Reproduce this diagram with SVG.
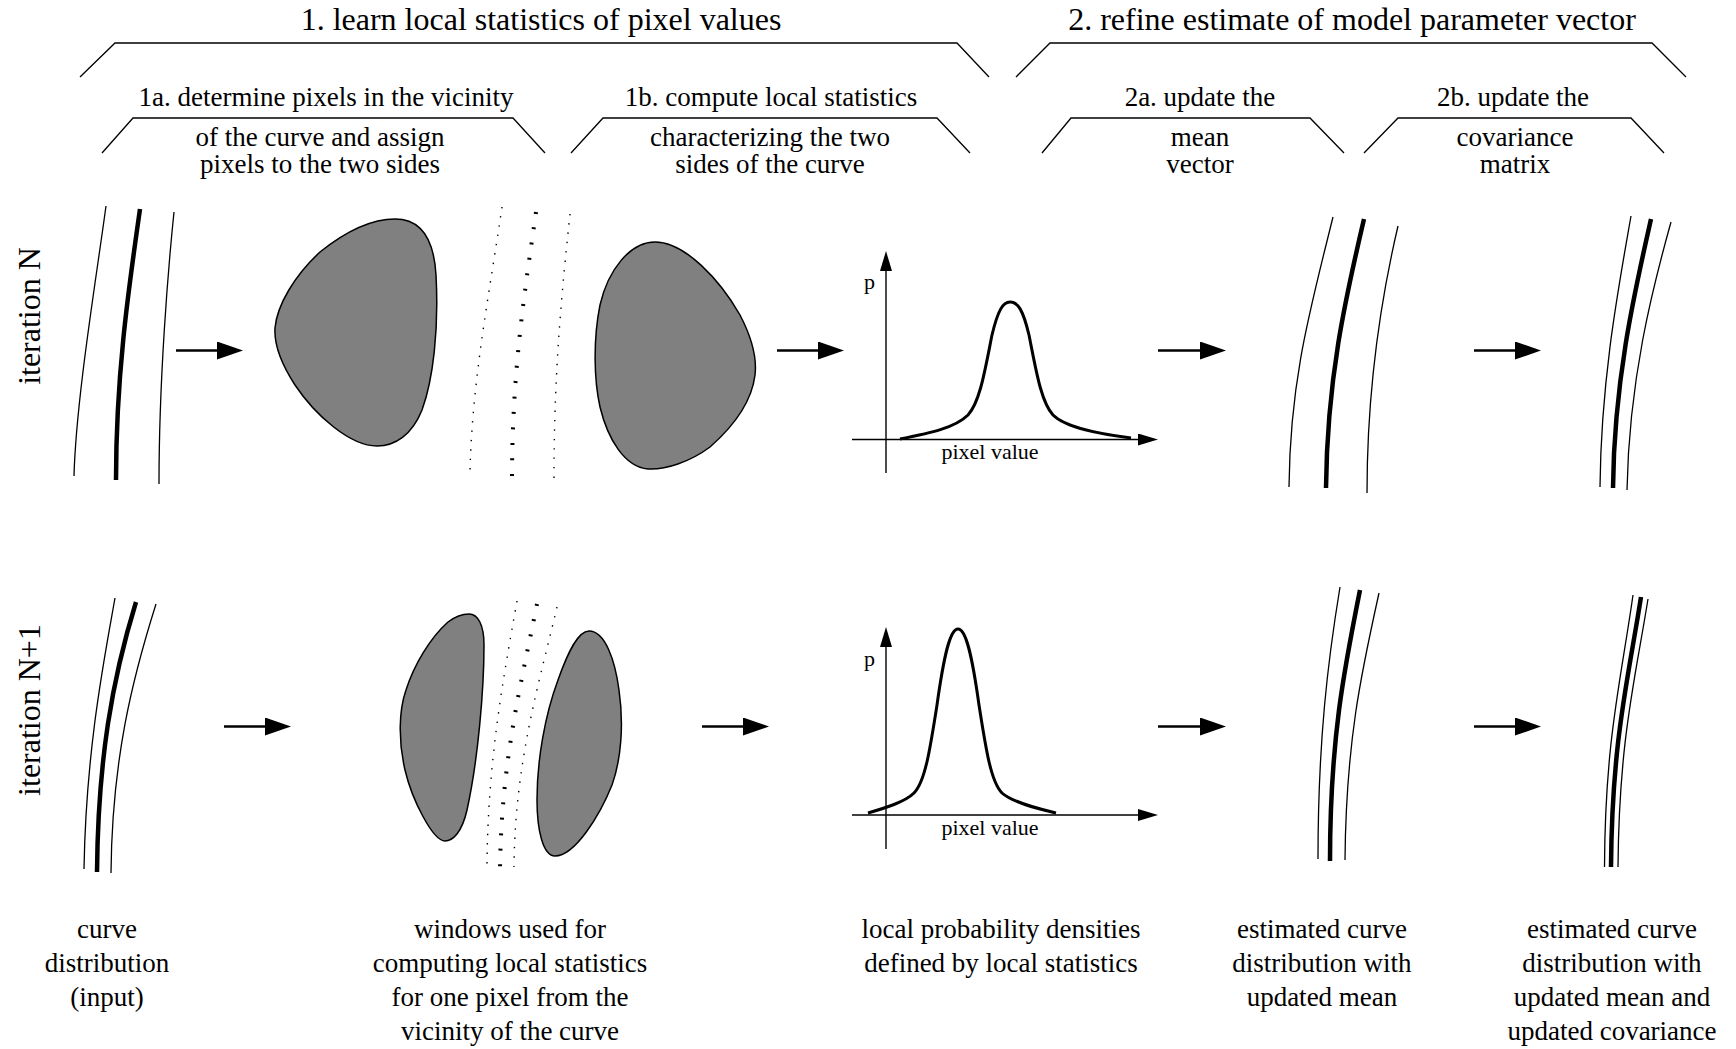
<svg xmlns="http://www.w3.org/2000/svg" width="1736" height="1049" viewBox="0 0 1736 1049">
<style>
text{font-family:"Liberation Serif","Times New Roman",serif;fill:#000}
.t1{font-size:32px;text-anchor:middle}
.rl{font-size:32px;text-anchor:middle}
.t2{font-size:27px;text-anchor:middle}
.lab{font-size:27px;text-anchor:middle}
.ax{font-size:22px}
.brk{fill:none;stroke:#000;stroke-width:1.3}
.thin{fill:none;stroke:#000;stroke-width:1.3}
.thick{fill:none;stroke:#000;stroke-width:4.5}
.dot{fill:none;stroke:#000;stroke-width:1.4;stroke-dasharray:1.4 8}
.dash{fill:none;stroke:#000;stroke-width:4;stroke-dasharray:2 13.5}
.blob{fill:#808080;stroke:#000;stroke-width:1.5}
.arr{fill:none;stroke:#000;stroke-width:2.6;marker-end:url(#big)}
.axis{fill:none;stroke:#000;stroke-width:1.4;marker-end:url(#small)}
.pdf{fill:none;stroke:#000;stroke-width:3}
</style>
<defs>
<marker id="big" markerUnits="userSpaceOnUse" viewBox="0 0 26 18" refX="16" refY="9" markerWidth="26" markerHeight="18" orient="auto">
<path d="M0,0 L26,9 L0,18 Z" fill="#000"/>
</marker>
<marker id="small" markerUnits="userSpaceOnUse" viewBox="0 0 20 12" refX="12" refY="6" markerWidth="20" markerHeight="12" orient="auto">
<path d="M0,0 L20,6 L0,12 Z" fill="#000"/>
</marker>
</defs>
<rect width="1736" height="1049" fill="#fff"/>

<g id="header1">
<text class="t1" x="541" y="30">1. learn local statistics of pixel values</text>
<path class="brk" d="M80,77 L115,43 L957,43 L989,77"/>
</g>
<g id="header2">
<text class="t1" x="1352" y="30">2. refine estimate of model parameter vector</text>
<path class="brk" d="M1016,77 L1050,43 L1652,43 L1686,77"/>
</g>
<g id="step1a">
<text class="t2" x="326" y="106">1a. determine pixels in the vicinity</text>
<path class="brk" d="M102,153 L133,118 L513,118 L545,153"/>
<text class="t2" x="320" y="146">of the curve and assign</text>
<text class="t2" x="320" y="173">pixels to the two sides</text>
</g>
<g id="step1b">
<text class="t2" x="771" y="106">1b. compute local statistics</text>
<path class="brk" d="M571,153 L603,118 L937,118 L970,153"/>
<text class="t2" x="770" y="146">characterizing the two</text>
<text class="t2" x="770" y="173">sides of the curve</text>
</g>
<g id="step2a">
<text class="t2" x="1200" y="106">2a. update the</text>
<path class="brk" d="M1042,153 L1071,118 L1310,118 L1344,153"/>
<text class="t2" x="1200" y="146">mean</text>
<text class="t2" x="1200" y="173">vector</text>
</g>
<g id="step2b">
<text class="t2" x="1513" y="106">2b. update the</text>
<path class="brk" d="M1364,153 L1398,118 L1631,118 L1664,153"/>
<text class="t2" x="1515" y="146">covariance</text>
<text class="t2" x="1515" y="173">matrix</text>
</g>

<g id="rowlabel-N">
<text class="rl" transform="translate(40,316) rotate(-90)">iteration N</text>
</g>
<g id="rowlabel-N1">
<text class="rl" transform="translate(40,710) rotate(-90)">iteration N+1</text>
</g>

<!-- row 1 -->
<g id="r1-input">
<path class="thin" d="M106,206 C96,280 76,400 74,476"/>
<path class="thick" d="M140,209 C130,280 116,370 116,480"/>
<path class="thin" d="M174,212 C168,270 159,380 159,484"/>
</g>
<g id="r1-windows">
<path class="blob" d="M395,219 C422,219 434,240 436,275 C439,330 433,380 422,410 C412,435 395,446 377,446 C350,446 315,415 295,385 C280,362 274,345 275,328 C277,305 295,275 320,252 C345,232 372,219 395,219 Z"/>
<path class="dot" d="M502,207 C490,290 472,380 470,472"/>
<path class="dash" d="M536,212 C525,290 512,370 512,480"/>
<path class="dot" d="M570,214 C562,290 554,370 554,478"/>
<path class="blob" d="M655,242 C685,242 720,280 740,315 C752,338 757,358 755,375 C752,400 735,425 710,447 C690,462 665,470 648,469 C625,467 608,440 600,407 C594,380 593,340 600,305 C608,270 630,242 655,242 Z"/>
</g>
<g id="r1-density">
<path class="axis" d="M886,473 L886,259"/>
<path class="axis" d="M852,439.5 L1150,439.5"/>
<text class="ax" x="864" y="289">p</text>
<text class="ax" x="990" y="459" text-anchor="middle">pixel value</text>
<path class="pdf" d="M900,439 C930,433 955,428 968,415 C980,402 985,370 992,335 C998,310 1003,302 1010,302 C1018,302 1023,310 1029,335 C1036,370 1041,402 1053,415 C1066,428 1100,434 1131,438"/>
</g>
<g id="r1-mean">
<path class="thin" d="M1333,217 C1310,310 1290,380 1289,487"/>
<path class="thick" d="M1364,219 C1345,300 1327,380 1326,488"/>
<path class="thin" d="M1398,226 C1383,290 1367,380 1367,493"/>
</g>
<g id="r1-cov">
<path class="thin" d="M1631,216 C1618,290 1601,380 1600,487"/>
<path class="thick" d="M1651,219 C1635,290 1614,380 1613,488"/>
<path class="thin" d="M1671,222 C1652,290 1629,380 1627,490"/>
</g>

<!-- row 2 -->
<g id="r2-input">
<path class="thin" d="M115,598 C104,660 86,750 84,869"/>
<path class="thick" d="M136,602 C112,680 98,760 97,872"/>
<path class="thin" d="M156,604 C132,680 112,760 111,873"/>
</g>
<g id="r2-windows">
<path class="blob" d="M469,614 C478,614 484,625 484,645 C484,690 478,760 467,810 C462,832 453,841 445,841 C433,841 412,800 405,770 C398,740 399,710 406,690 C414,665 430,638 448,622 C456,616 462,614 469,614 Z"/>
<path class="dot" d="M517,601 C503,680 488,760 487,864"/>
<path class="dash" d="M537,604 C522,680 501,760 500,871"/>
<path class="dot" d="M557,607 C540,680 515,760 514,867"/>
<path class="blob" d="M589,631 C605,631 615,660 619,690 C624,725 621,760 612,785 C600,815 575,856 555,856 C543,856 537,830 537,800 C537,760 545,715 558,680 C568,652 578,631 589,631 Z"/>
</g>
<g id="r2-density">
<path class="axis" d="M886,849 L886,635"/>
<path class="axis" d="M852,815 L1150,815"/>
<text class="ax" x="864" y="666">p</text>
<text class="ax" x="990" y="835" text-anchor="middle">pixel value</text>
<path class="pdf" d="M868,813 C885,808 905,802 914,793 C925,782 930,750 937,705 C944,655 950,629 958,629 C966,629 972,655 979,705 C986,750 991,782 1002,793 C1012,802 1035,808 1056,813"/>
</g>
<g id="r2-mean">
<path class="thin" d="M1340,587 C1328,660 1318,740 1318,859"/>
<path class="thick" d="M1360,590 C1344,670 1330,740 1330,861"/>
<path class="thin" d="M1379,593 C1362,670 1346,740 1345,860"/>
</g>
<g id="r2-cov">
<path class="thin" d="M1633,595 C1621,680 1605,740 1604.5,867"/>
<path class="thick" d="M1641,597 C1628,680 1612,740 1611,867"/>
<path class="thin" d="M1648,599 C1635,680 1619,740 1618,867"/>
</g>

<g id="connectors">
<path class="arr" d="M176,350.5 L233,350.5"/>
<path class="arr" d="M777,350.5 L834,350.5"/>
<path class="arr" d="M1158,350.5 L1216,350.5"/>
<path class="arr" d="M1474,350.5 L1531,350.5"/>
<path class="arr" d="M224,726.5 L281,726.5"/>
<path class="arr" d="M702,726.5 L759,726.5"/>
<path class="arr" d="M1158,726.5 L1216,726.5"/>
<path class="arr" d="M1474,726.5 L1531,726.5"/>
</g>

<g id="captions">
<text class="lab" x="107" y="938">curve</text>
<text class="lab" x="107" y="972">distribution</text>
<text class="lab" x="107" y="1006">(input)</text>
<text class="lab" x="510" y="938">windows used for</text>
<text class="lab" x="510" y="972">computing local statistics</text>
<text class="lab" x="510" y="1006">for one pixel from the</text>
<text class="lab" x="510" y="1040">vicinity of the curve</text>
<text class="lab" x="1001" y="938">local probability densities</text>
<text class="lab" x="1001" y="972">defined by local statistics</text>
<text class="lab" x="1322" y="938">estimated curve</text>
<text class="lab" x="1322" y="972">distribution with</text>
<text class="lab" x="1322" y="1006">updated mean</text>
<text class="lab" x="1612" y="938">estimated curve</text>
<text class="lab" x="1612" y="972">distribution with</text>
<text class="lab" x="1612" y="1006">updated mean and</text>
<text class="lab" x="1612" y="1040">updated covariance</text>
</g>
</svg>
